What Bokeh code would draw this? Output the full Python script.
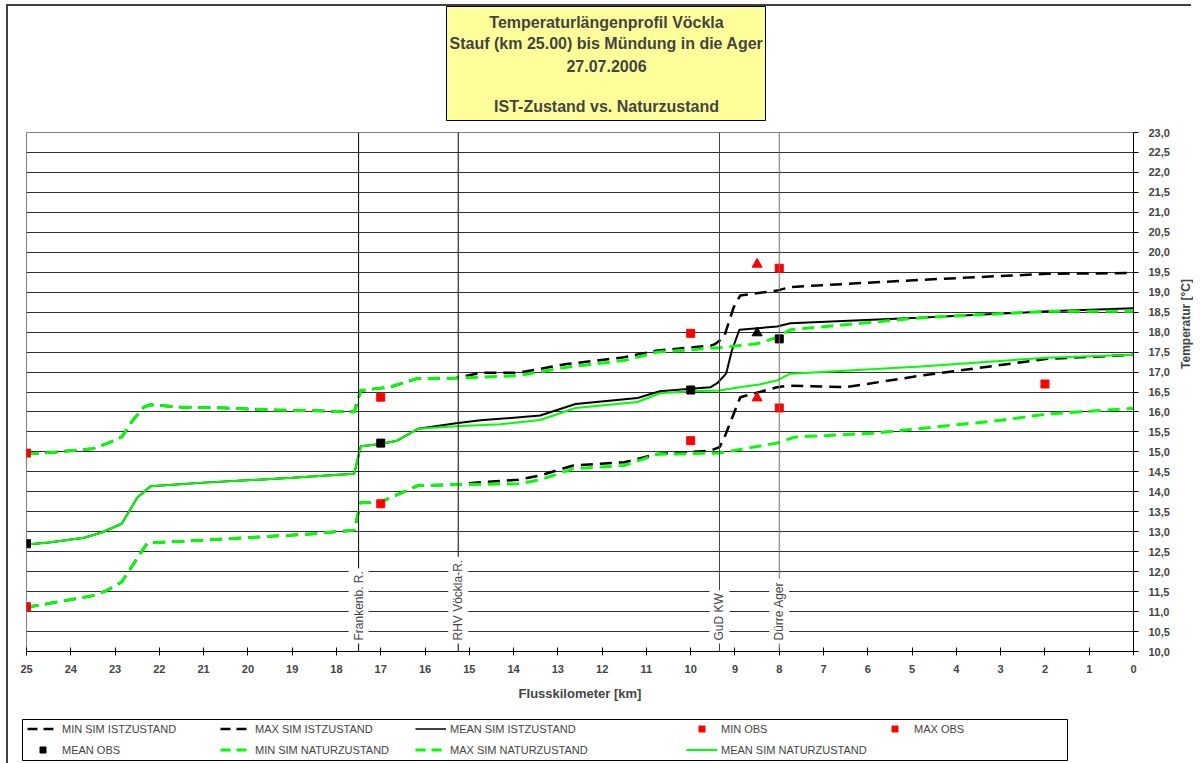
import math
from bokeh.plotting import figure
from bokeh.layouts import column, row
from bokeh.models import (Range1d, SingleIntervalTicker, FixedTicker, CustomJSTickFormatter,
                          Span, Label, Legend, LegendItem, Spacer)
from bokeh.embed import file_html
from bokeh.resources import INLINE

# ---------------- data ----------------
ist_mean_km = [25, 24.5, 23.7, 23.3, 22.85, 22.5, 22.2, 21, 19, 17.6, 17.45, 17.05, 16.65, 16.15, 15.3,
               14.75, 13.4, 12.6, 11.2, 10.7, 10.0, 9.55, 9.4, 9.2, 9.07, 8.9, 8.05, 7.75, 4.85, 1.95, 0]
ist_mean_t = [12.68, 12.73, 12.85, 12.98, 13.2, 13.85, 14.14, 14.23, 14.35, 14.45, 15.14, 15.19, 15.27, 15.58,
              15.72, 15.79, 15.91, 16.2, 16.35, 16.52, 16.58, 16.62, 16.72, 16.96, 17.54, 18.06, 18.14, 18.22,
              18.36, 18.52, 18.6]

ist_max_km = [25, 24.5, 23.5, 23.2, 22.85, 22.6, 22.35, 22.2, 21.5, 20.5, 19.5, 18.5, 17.6, 17.45, 16.8, 16.2,
              15.3, 14.75, 13.9, 12.8, 11.5, 10.75, 9.55, 9.45, 9.25, 9.03, 8.88, 8.05, 7.75, 4.8, 1.95, 0]
ist_max_t = [14.95, 14.98, 15.08, 15.2, 15.37, 15.79, 16.12, 16.18, 16.12, 16.1, 16.05, 16.03, 16.0, 16.54,
             16.62, 16.83, 16.85, 16.98, 16.98, 17.2, 17.37, 17.54, 17.66, 17.7, 17.87, 18.62, 18.92, 19.04,
             19.13, 19.31, 19.46, 19.48]

ist_min_km = [25, 24.5, 23.5, 23.2, 22.85, 22.27, 21.5, 20, 18.5, 17.6, 17.45, 17.05, 16.15, 15.3, 14.75, 13.9,
              13.4, 12.65, 11.5, 10.75, 9.55, 9.35, 9.25, 9.03, 8.88, 8.05, 7.75, 6.5, 4.8, 1.95, 0]
ist_min_t = [11.11, 11.2, 11.4, 11.52, 11.74, 12.72, 12.76, 12.85, 12.95, 13.04, 13.74, 13.72, 14.16, 14.18,
             14.24, 14.3, 14.41, 14.66, 14.74, 14.95, 15.03, 15.12, 15.33, 15.95, 16.37, 16.62, 16.66, 16.62,
             16.91, 17.33, 17.43]

nat_mean_km = [25, 24.5, 23.7, 23.3, 22.85, 22.5, 22.2, 21, 19, 17.6, 17.45, 17.05, 16.65, 16.15, 15.3, 14.3,
               13.4, 12.6, 11.2, 10.7, 10.0, 9.35, 8.9, 8.45, 8.05, 7.75, 4.8, 1.95, 0]
nat_mean_t = [12.68, 12.73, 12.85, 12.98, 13.2, 13.85, 14.14, 14.23, 14.35, 14.45, 15.14, 15.19, 15.27, 15.58,
              15.64, 15.69, 15.8, 16.1, 16.25, 16.47, 16.52, 16.54, 16.62, 16.69, 16.79, 16.96, 17.14, 17.36,
              17.43]

nat_max_km = [25, 24.5, 23.5, 23.2, 22.85, 22.6, 22.35, 22.2, 21.5, 20.5, 19.5, 18.5, 17.6, 17.45, 16.8, 16.2,
              15.3, 13.9, 12.8, 11.5, 10.75, 9.35, 8.5, 8.05, 7.75, 4.8, 1.95, 0]
nat_max_t = [14.95, 14.98, 15.08, 15.2, 15.37, 15.79, 16.12, 16.18, 16.12, 16.1, 16.05, 16.03, 16.0, 16.54,
             16.62, 16.83, 16.85, 16.91, 17.12, 17.29, 17.5, 17.61, 17.71, 17.87, 18.06, 18.36, 18.52, 18.52]

nat_min_km = [25, 24.5, 23.5, 23.2, 22.85, 22.27, 21.5, 20, 18.5, 17.6, 17.45, 17.05, 16.15, 15.3, 13.9, 13.4,
              12.65, 11.5, 10.75, 9.35, 8.05, 7.65, 5.85, 3.0, 1.95, 0]
nat_min_t = [11.11, 11.2, 11.4, 11.52, 11.74, 12.72, 12.76, 12.85, 12.95, 13.04, 13.74, 13.72, 14.16, 14.18,
             14.2, 14.3, 14.58, 14.66, 14.94, 14.97, 15.22, 15.37, 15.47, 15.79, 15.95, 16.09]

min_obs_km = [25, 17, 10, 8, 2]
min_obs_t = [11.12, 13.7, 15.28, 16.1, 16.7]
max_obs_km = [25, 17, 10, 8]
max_obs_t = [14.97, 16.37, 17.97, 19.6]
mean_obs_km = [25, 17, 10, 8]
mean_obs_t = [12.7, 15.22, 16.55, 17.83]

tri_red_km = [8.5, 8.5]
tri_red_t = [19.7, 16.35]
tri_black_km = [8.5]
tri_black_t = [17.98]

markers_km = [17.5, 15.25, 9.35, 8.0]
markers_txt = ["Frankenb. R.", "RHV Vöckla-R.", "GuD KW", "Dürre Ager"]
markers_col = ["#000000", "#000000", "#404040", "#707070"]

title_lines = ["Temperaturlängenprofil Vöckla", "Stauf (km 25.00) bis Mündung in die Ager",
               "27.07.2006", "IST-Zustand vs. Naturzustand"]

legend_labels = ["MIN SIM ISTZUSTAND", "MAX SIM ISTZUSTAND", "MEAN SIM ISTZUSTAND", "MIN OBS", "MAX OBS",
                 "MEAN OBS", "MIN SIM NATURZUSTAND", "MAX SIM NATURZUSTAND", "MEAN SIM NATURZUSTAND"]

FONT = "Liberation Sans"
GREEN = "#00FF00"
RED = "#FF0000"
DASH = "12 7"
BORDER = "#404040"

# ---------------- main figure ----------------
MAIN_W, MAIN_H = 1167, 598
MT, MB = 11, 68
p = figure(width=MAIN_W, height=MAIN_H, output_backend="svg", toolbar_location=None,
           x_range=Range1d(25, 0), y_range=Range1d(10, 23), y_axis_location="right",
           min_border_left=18, min_border_right=42, min_border_top=MT, min_border_bottom=MB)
p.background_fill_color = "white"
p.border_fill_color = "white"
p.outline_line_color = "#808080"

yt = SingleIntervalTicker(interval=0.5, num_minor_ticks=0)
ya = p.yaxis[0]
ya.ticker = yt
ya.formatter = CustomJSTickFormatter(code="return tick.toFixed(1).replace('.', ',');")
ya.major_tick_in = 0
ya.major_tick_out = 5
ya.minor_tick_line_color = None
ya.major_label_standoff = 10
ya.major_label_text_font = FONT
ya.major_label_text_font_size = "11px"
ya.major_label_text_font_style = "bold"
ya.axis_line_color = "black"

xa = p.xaxis[0]
xa.ticker = FixedTicker(ticks=list(range(0, 26)))
xa.major_tick_in = 4
xa.major_tick_out = 4
xa.minor_tick_line_color = None
xa.major_label_standoff = 9
xa.major_label_text_font = FONT
xa.major_label_text_font_size = "11px"
xa.major_label_text_font_style = "bold"
xa.axis_label = "Flusskilometer [km]"
xa.axis_label_text_font = FONT
xa.axis_label_text_font_size = "13px"
xa.axis_label_text_font_style = "bold"
xa.axis_label_standoff = 10
xa.axis_line_color = "black"

p.xgrid.visible = False
p.ygrid.ticker = yt
p.ygrid.grid_line_color = "#303030"
p.ygrid.grid_line_width = 1

for km, col in zip(markers_km, markers_col):
    p.add_layout(Span(location=km, dimension="height", line_color=col, line_width=1))

p.line(ist_min_km, ist_min_t, line_color="black", line_width=2.5, line_dash=DASH)
p.line(ist_max_km, ist_max_t, line_color="black", line_width=2.5, line_dash=DASH)
p.line(ist_mean_km, ist_mean_t, line_color="black", line_width=2)
p.line(nat_min_km, nat_min_t, line_color=GREEN, line_width=3, line_dash=DASH)
p.line(nat_max_km, nat_max_t, line_color=GREEN, line_width=3, line_dash=DASH)
p.line(nat_mean_km, nat_mean_t, line_color=GREEN, line_width=2)

p.scatter(min_obs_km, min_obs_t, marker="square", size=8, color=RED)
p.scatter(max_obs_km, max_obs_t, marker="square", size=8, color=RED)
p.scatter(mean_obs_km, mean_obs_t, marker="square", size=8, color="black")
p.scatter(tri_red_km, tri_red_t, marker="triangle", size=10, color=RED)
p.scatter(tri_black_km, tri_black_t, marker="triangle", size=10, color="black")

for km, txt in zip(markers_km, markers_txt):
    p.add_layout(Label(x=km, y=10.2, text=txt, angle=math.pi / 2, text_align="left",
                       text_baseline="middle", text_font=FONT, text_font_size="12px",
                       background_fill_color="white", padding=3))

# ---------------- y-axis title (own strip right of the axis) ----------------
YW = 18
yf = figure(width=YW, height=MAIN_H, output_backend="svg", toolbar_location=None,
            x_range=Range1d(0, 1), y_range=Range1d(0, 1), min_border=0)
yf.axis.visible = False
yf.grid.visible = False
yf.outline_line_color = None
frame_h = MAIN_H - MT - MB
yf.add_layout(Label(x=YW / 2 + 1, y=MB + frame_h / 2, x_units="screen", y_units="screen",
                    text="Temperatur [°C]", angle=math.pi / 2, text_align="center",
                    text_baseline="middle", text_font=FONT, text_font_size="12px",
                    text_font_style="bold"))

# ---------------- title box ----------------
TW, TH = 320, 115
tf = figure(width=TW, height=TH, output_backend="svg", toolbar_location=None,
            x_range=Range1d(0, 1), y_range=Range1d(0, 1), min_border=0)
tf.axis.visible = False
tf.grid.visible = False
tf.background_fill_color = "#FFFF99"
tf.border_fill_color = "#FFFF99"
tf.outline_line_color = "black"
tf.outline_line_width = 1
for txt, ty in zip(title_lines, [16, 37, 59, 100]):
    tf.add_layout(Label(x=TW / 2, y=TH - ty, x_units="screen", y_units="screen", text=txt,
                        text_align="center", text_baseline="middle", text_font=FONT,
                        text_font_size="16px", text_font_style="bold"))

# ---------------- legend box ----------------
LW, LH = 1046, 42
lf = figure(width=LW, height=LH, output_backend="svg", toolbar_location=None,
            x_range=Range1d(-200, -199), y_range=Range1d(-200, -199), min_border=0)
lf.axis.visible = False
lf.grid.visible = False
lf.outline_line_color = "black"
lf.outline_line_width = 1

# legend renderers reuse the series data but lie outside this box's (empty) view
lr = {}
lr["MIN SIM ISTZUSTAND"] = lf.line(ist_min_km, ist_min_t, line_color="black", line_width=2.5, line_dash="10 6")
lr["MAX SIM ISTZUSTAND"] = lf.line(ist_max_km, ist_max_t, line_color="black", line_width=2.5, line_dash="10 6")
lr["MEAN SIM ISTZUSTAND"] = lf.line(ist_mean_km, ist_mean_t, line_color="black", line_width=1.5)
lr["MIN OBS"] = lf.scatter(min_obs_km, min_obs_t, marker="square", size=7, color=RED)
lr["MAX OBS"] = lf.scatter(max_obs_km, max_obs_t, marker="square", size=7, color=RED)
lr["MEAN OBS"] = lf.scatter(mean_obs_km, mean_obs_t, marker="square", size=7, color="black")
lr["MIN SIM NATURZUSTAND"] = lf.line(nat_min_km, nat_min_t, line_color=GREEN, line_width=3, line_dash="10 6")
lr["MAX SIM NATURZUSTAND"] = lf.line(nat_max_km, nat_max_t, line_color=GREEN, line_width=3, line_dash="10 6")
lr["MEAN SIM NATURZUSTAND"] = lf.line(nat_mean_km, nat_mean_t, line_color=GREEN, line_width=2)

col_x = [5, 198, 393, 664, 857]
for c, x0 in enumerate(col_x):
    labs = [legend_labels[c]] + ([legend_labels[c + 5]] if c + 5 < len(legend_labels) else [])
    n = len(labs)
    h = n * 15 + (n - 1) * 6
    bottom = LH - (2 + h)
    lg = Legend(items=[LegendItem(label=l, renderers=[lr[l]]) for l in labs],
                location=(x0, bottom), orientation="vertical",
                border_line_color=None, background_fill_alpha=0, padding=0, margin=0, spacing=6,
                glyph_width=31, glyph_height=15, label_height=15, label_standoff=4,
                label_text_font=FONT, label_text_font_size="11px")
    lf.add_layout(lg)

# ---------------- layout ----------------
top_gap = Spacer(width=1185, height=4)
top_line = Spacer(width=1185, height=2, styles={"background-color": BORDER})
left_gap = Spacer(width=6, height=763 - 2)
left_line = Spacer(width=2, height=763 - 6, styles={"background-color": BORDER})
content = column(
    row(Spacer(width=438, height=TH), tf),
    row(p, yf),
    row(Spacer(width=14, height=LH), lf),
)
layout = column(top_gap, row(left_gap, column(top_line, row(left_line, content))))

open("out.html", "w").write(file_html(layout, INLINE))
